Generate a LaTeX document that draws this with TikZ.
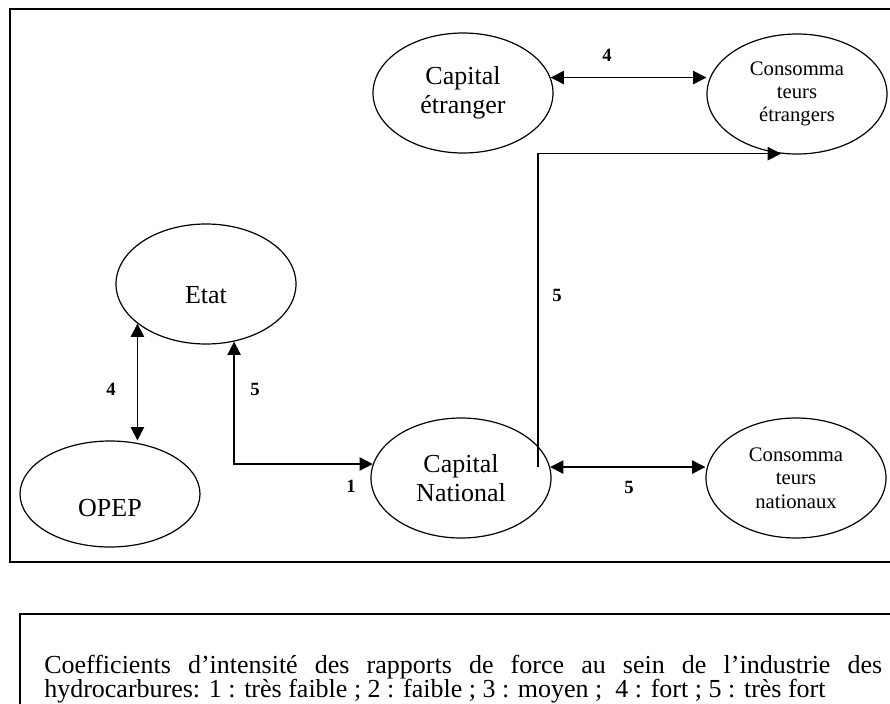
\documentclass[tikz,border=0pt]{standalone}
\usepackage{fontspec}
\setmainfont{Liberation Serif}
\usetikzlibrary{arrows.meta,shapes.geometric}

\begin{document}
\begin{tikzpicture}[x=0.75pt,y=-0.75pt,
        acteur/.style={draw,ellipse,line width=0.9pt,inner sep=0pt,align=center,
            minimum width=135pt,minimum height=90pt,font=\fontsize{19.5}{22}\selectfont},
        petit/.style={font=\fontsize{15.5}{17.5}\selectfont},
        fleche/.style={line width=1.1pt,-{Triangle[length=10pt,width=10pt]}},
        double/.style={line width=1.1pt,{Triangle[length=10pt,width=10pt]}-{Triangle[length=10pt,width=10pt]}},
        coef/.style={font=\fontsize{14}{16}\selectfont\bfseries},
        cadre/.style={line width=1.5pt}]
                \path[use as bounding box,clip] (0,0) rectangle (890,704);
                \draw[cadre] (10,9) rectangle (900,562);
                \draw[cadre] (20,614) rectangle (900,720);
                % les acteurs
                \node[acteur] (ce) at (463,93) {Capital\\étranger};
                \node[acteur,petit] (cet) at (797,94) {Consomma\\teurs\\étrangers};
                \node[acteur,text height=29pt,text depth=0pt] (etat) at (206,284) {Etat};
                \node[acteur,minimum height=79.5pt,text height=33pt,text depth=0pt] (opep) at (110,494) {OPEP};
                \node[acteur] (cn) at (461,478) {Capital\\National};
                \node[acteur,petit] (cnat) at (796,478) {Consomma\\teurs\\nationaux};
                % les rapports de force
                \draw[double] (ce.10) -- (ce.10 -| cet.west);
                \draw[double] (etat.-150) -- (etat.-150 |- opep.north);
                \draw[double] (etat.-64) |- (cn.171);
                \draw[double] (cn.7) -- (cn.7 -| cnat.west);
                \draw[fleche] ([xshift=-9pt]cn.7) |- (cet.-105);
                \node[coef] (k1) at (607,55) {4};
                \node[coef] (k2) at (111,389) {4};
                \node[coef] (k3) at (255,389) {5};
                \node[coef] (k4) at (351,486) {1};
                \node[coef] (k5) at (557,295) {5};
                \node[coef] (k6) at (629,487) {5};
                % la legende
                \node[anchor=north west,inner sep=0pt,text width=628.5pt,align=justify,
                    font={\fontsize{19.5}{18}\selectfont\hyphenpenalty=10000 }] (leg) at (44,655)
                    {Coefficients d’intensité des rapports de force au sein de l’industrie des hydrocarbures: 1 : très faible ; 2 : faible ; 3 : moyen ;~ 4 : fort ; 5 : très fort};
            \end{tikzpicture}
\end{document}
